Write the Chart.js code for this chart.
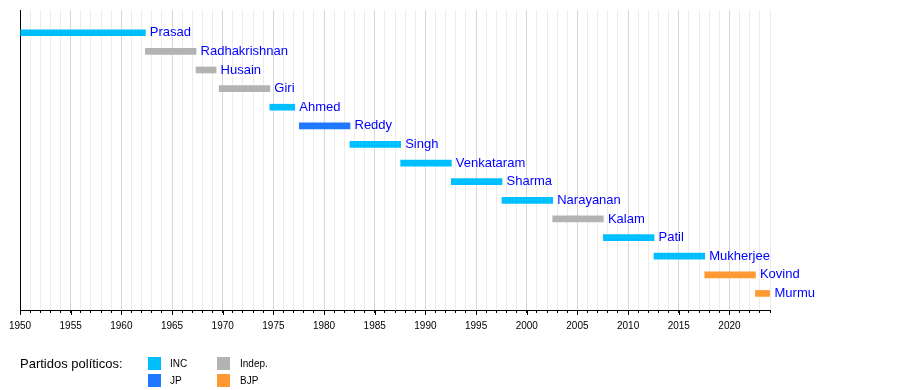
<!DOCTYPE html>
<html>
<head>
<meta charset="utf-8">
<script src="https://cdn.jsdelivr.net/npm/chart.js@4.4.1/dist/chart.umd.min.js"></script>
<style>
  html, body { margin: 0; padding: 0; background: #fff; }
  #wrap { position: relative; width: 900px; height: 390px; font-family: "Liberation Sans", Arial, sans-serif; }
  #c { position: absolute; left: 0; top: 0; }
  .lg { position: absolute; color: #000; white-space: nowrap; line-height: 1; }
  .sw { position: absolute; width: 13px; height: 13px; }
</style>
</head>
<body>
<div id="wrap">
  <canvas id="c" width="900" height="390"></canvas>
  <div class="lg" style="left:20px;top:357px;font-size:13px;">Partidos políticos:</div>
  <div class="sw" style="left:148px;top:357px;background:#00BFFF"></div>
  <div class="lg" style="left:170px;top:359px;font-size:10px;">INC</div>
  <div class="sw" style="left:148px;top:374px;background:#1F78FF"></div>
  <div class="lg" style="left:170px;top:376px;font-size:10px;">JP</div>
  <div class="sw" style="left:217px;top:357px;background:#B3B3B3"></div>
  <div class="lg" style="left:240px;top:359px;font-size:10px;">Indep.</div>
  <div class="sw" style="left:217px;top:374px;background:#FF9933"></div>
  <div class="lg" style="left:240px;top:376px;font-size:10px;">BJP</div>
</div>
<script>
// ---- data ----
const names   = ["Prasad","Radhakrishnan","Husain","Giri","Ahmed","Reddy","Singh","Venkataram","Sharma","Narayanan","Kalam","Patil","Mukherjee","Kovind","Murmu"];
const starts  = [1950.07, 1962.37, 1967.37, 1969.65, 1974.65, 1977.56, 1982.56, 1987.56, 1992.56, 1997.56, 2002.56, 2007.56, 2012.56, 2017.56, 2022.56];
const ends    = [1962.37, 1967.37, 1969.35, 1974.65, 1977.11, 1982.56, 1987.56, 1992.56, 1997.56, 2002.56, 2007.56, 2012.56, 2017.56, 2022.56, 2024.0];
const parties = ["INC","Indep.","Indep.","Indep.","INC","JP","INC","INC","INC","INC","Indep.","INC","INC","BJP","BJP"];
const partyColors = { "INC": "#00BFFF", "JP": "#1F78FF", "Indep.": "#B3B3B3", "BJP": "#FF9933" };
const yearMin = 1950, yearMax = 2024, labelStep = 5;

Chart.defaults.font.family = '"Liberation Sans", Arial, sans-serif';
Chart.defaults.color = '#000';

const barLabels = {
  id: 'barLabels',
  afterDatasetsDraw(chart) {
    const ctx = chart.ctx;
    const meta = chart.getDatasetMeta(0);
    ctx.save();
    ctx.font = '13px "Liberation Sans", Arial, sans-serif';
    ctx.fillStyle = '#0000FF';
    ctx.textAlign = 'left';
    ctx.textBaseline = 'middle';
    meta.data.forEach((bar, i) => {
      const right = Math.max(bar.x, bar.base);
      ctx.fillText(names[i], right + 4.5, bar.y);
    });
    ctx.restore();
  }
};

const majorTicks = {
  id: 'majorTicks',
  afterDraw(chart) {
    const xs = chart.scales.x;
    const ctx = chart.ctx;
    ctx.save();
    ctx.strokeStyle = '#000';
    ctx.lineWidth = 1;
    for (let v = yearMin; v <= yearMax; v += labelStep) {
      const px = Math.round(xs.getPixelForValue(v)) + 0.5;
      ctx.beginPath();
      ctx.moveTo(px, xs.top);
      ctx.lineTo(px, xs.top + 5);
      ctx.stroke();
    }
    ctx.restore();
  }
};

new Chart(document.getElementById('c'), {
  type: 'bar',
  data: {
    datasets: [{
      data: names.map((n, i) => ({ x: [starts[i], ends[i]], y: i })),
      backgroundColor: parties.map(p => partyColors[p]),
      borderWidth: 0,
      barThickness: 6
    }]
  },
  options: {
    responsive: false,
    animation: false,
    indexAxis: 'y',
    layout: { padding: { left: 20, right: 130, top: 10, bottom: 56 } },
    plugins: { legend: { display: false }, tooltip: { enabled: false } },
    scales: {
      x: {
        type: 'linear',
        min: yearMin,
        max: yearMax,
        offset: false,
        afterFit(s) { s.height = 24; },
        afterBuildTicks(s) {
          const t = [];
          for (let v = yearMin; v <= yearMax; v++) t.push({ value: v });
          s.ticks = t;
        },
        ticks: {
          autoSkip: false,
          maxRotation: 0,
          padding: 7,
          font: { size: 10 },
          color: '#000',
          callback: v => (v % labelStep === 0 ? String(v) : '')
        },
        grid: {
          offset: false,
          color: c => (c.tick && c.tick.value === yearMin) ? '#000' : ((c.tick && c.tick.value % labelStep === 0) ? '#d6d6d6' : '#ececec'),
          tickColor: '#000',
          tickLength: 3,
          lineWidth: 1
        },
        border: { display: true, color: '#000', width: 1 }
      },
      y: {
        type: 'linear',
        reverse: true,
        offset: false,
        min: -1.22,
        max: 14.89,
        afterFit(s) { s.width = 0; },
        ticks: { display: false },
        grid: { display: false, drawTicks: false, offset: false },
        border: { display: true, color: '#000', width: 1 }
      }
    }
  },
  plugins: [barLabels, majorTicks]
});
</script>
</body>
</html>
